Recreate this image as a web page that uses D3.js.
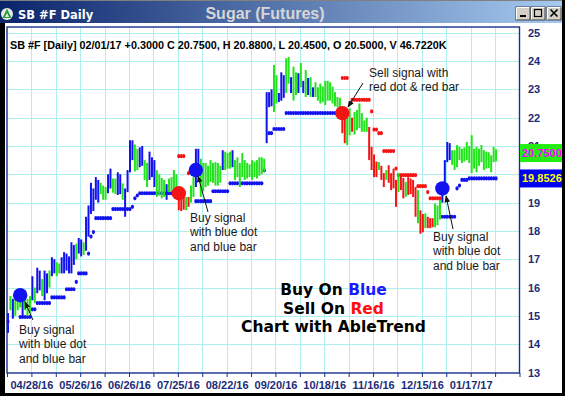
<!DOCTYPE html>
<html>
<head>
<meta charset="utf-8">
<script src="https://cdn.jsdelivr.net/npm/d3@7"></script>
<style>
  html, body { margin: 0; padding: 0; background: #000; }
  svg { display: block; }
</style>
</head>
<body>
<svg id="chart" width="565" height="396"></svg>
<script>
// ---- Sugar futures (SB #F) daily bars, 04/2016 - 02/01/2017 ----
const barLows = [
  14.4,15.2,14.9,15.0,15.2,15.3,15.0,15.2,15.0,15.1,
  15.55,15.45,15.8,15.9,15.7,15.55,15.8,16.0,16.4,16.5,
  16.4,16.5,16.5,16.5,16.6,16.5,16.5,16.8,17.0,17.2,
  17.1,17.15,17.3,17.8,18.6,18.7,19.1,19.0,19.3,19.1,
  19.1,19.33,19.5,19.35,19.3,19.27,19.3,19.1,18.5,19.37,
  20.07,20.5,20.1,20.15,20.25,20.3,19.8,19.55,19.8,19.9,
  19.55,19.2,19.25,19.15,19.2,19.1,19.37,19.4,19.2,19.3,
  18.73,18.7,18.75,18.73,18.85,19.0,19.2,19.55,20.0,19.2,
  19.4,19.55,19.6,19.73,19.7,19.6,19.6,19.7,20.15,20.15,
  20.2,20.2,20.25,19.8,19.9,19.55,19.9,19.8,19.85,19.9,
  19.8,19.9,19.85,19.95,20.0,20.1,21.1,22.37,22.4,22.2,
  22.5,22.55,22.6,22.7,22.87,23.2,22.87,22.6,22.8,22.87,
  23.07,22.87,22.73,22.8,22.73,22.73,22.73,22.6,22.5,22.55,
  22.45,22.6,22.6,22.5,22.4,22.37,22.2,21.45,21.1,21.03,
  21.38,21.5,21.4,21.56,21.63,21.5,21.5,21.5,20.5,20.15,
  19.9,19.9,20.15,19.8,19.55,19.8,19.7,19.44,19.5,18.85,
  19.37,19.44,19.15,19.2,19.27,19.3,19.2,18.5,18.27,17.9,
  17.95,18.1,18.1,18.1,18.13,18.13,18.2,18.4,19.0,19.33,
  20.43,20.5,20.33,20.15,20.25,20.5,20.4,20.45,20.5,20.4,
  20.04,20.2,20.07,20.3,20.43,20.15,20.2,20.22,20.07,20.43,
  20.45
];
const barHighs = [
  15.1,15.7,15.6,15.7,15.8,15.9,15.8,15.9,15.6,15.7,
  16.4,16.0,16.7,16.6,16.3,16.6,16.5,16.6,17.07,17.0,
  16.9,16.85,17.07,17.25,17.2,17.1,17.6,17.5,17.55,17.75,
  17.7,17.6,18.5,18.9,19.7,19.5,19.9,19.8,19.7,19.6,
  19.55,20.0,20.2,19.85,19.85,20.07,20.0,19.68,19.5,20.15,
  21.2,21.2,21.05,20.9,20.95,21.0,20.5,20.4,20.8,20.6,
  20.5,20.15,20.0,19.87,19.8,19.65,19.85,19.9,20.15,20.0,
  19.4,19.4,19.3,19.2,19.2,19.6,19.9,20.9,20.9,20.55,
  20.4,20.4,20.3,20.5,20.4,20.43,20.4,20.3,20.85,20.8,
  20.75,20.8,20.85,20.5,20.6,20.4,20.75,20.5,20.4,20.35,
  20.5,20.45,20.5,20.6,20.6,20.55,22.9,22.9,23.0,23.86,
  23.5,22.87,23.6,23.5,24.1,24.14,23.43,23.8,23.6,23.57,
  23.93,23.3,23.68,23.4,23.43,23.07,23.25,23.07,23.2,23.1,
  23.3,23.3,23.25,23.1,22.9,22.73,22.7,22.16,22.0,22.2,
  22.33,22.0,22.2,22.27,22.5,22.16,21.9,22.0,21.67,20.97,
  20.7,20.45,20.43,20.3,20.04,20.15,20.32,20.04,20.2,19.8,
  20.04,19.97,19.87,19.73,19.9,19.85,19.8,19.55,19.44,18.73,
  18.6,18.62,18.5,18.45,18.45,18.97,18.9,19.1,19.5,20.5,
  21.14,21.1,20.85,20.85,21.03,20.97,20.9,20.95,21.14,21.0,
  21.38,20.9,20.97,20.9,21.03,20.85,20.8,20.78,20.67,20.97,
  20.88
];
// AbleTrend bar state: b = up trend, g = neutral, r = down trend
const barTrend = (
  "bgbgggbggg" + "bgbbgbbgbb" + "ggbbbbbbgb" + "bgbbbbbbgg" + "gbbggbbgbb" +
  "bbggbbggbb" + "bggggbgggg" + "rrrgrggbbg" + "ggggggggbg" + "ggbggggggg" +
  "ggggggbbbg" + "gbbbggbggb" + "gbgbgbgggg" + "gggggggrrg" + "grggggggrr" +
  "rrgrrgrrrr" + "grrgrrrrgr" + "rgrrrgggbb" + "bbgggggggg" + "gggggggggg" + "g"
).split("");

// Trailing stop levels: [first bar, last bar, price]
const blueStopRuns = [
  [5,9,14.96],[10,11,15.23],[12,17,15.45],[18,23,15.65],[24,27,15.94],[28,28,16.2],
  [29,32,16.5],[33,33,17.2],[34,34,17.8],[35,35,17.96],[36,42,18.45],[43,50,18.77],
  [51,51,18.85],[52,52,19.15],[53,53,19.25],[54,69,19.33],
  [77,83,19.05],[84,90,19.4],[91,104,19.68],[105,105,20.14],[107,108,21.45],[109,113,21.6],
  [114,136,22.16],
  [178,183,18.5],[184,184,19.5],[185,185,19.6],[186,188,19.8],[189,200,19.8526]
];
const redStopRuns = [
  [0,0,14.8],[70,72,20.64],[74,74,20.04],
  [137,139,23.4],[141,148,22.63],[149,149,22.22],[150,151,21.58],[152,153,21.45],
  [154,158,20.82],[159,159,20.2],[160,167,19.97],[168,171,19.58],[172,172,19.37],[173,177,19.15]
];

// Entry signals (large dots)
const signalBars   = [5, 70, 77, 137, 178];
const signalPrices = [15.73, 19.33, 20.15, 22.16, 19.5];
const signalTypes  = ["buy", "sell", "buy", "sell", "buy"];

// Axes
const priceTicks = [13,14,15,16,17,18,19,20,21,22,23,24,25];
const dateLabels = ["04/28/16","05/26/16","06/26/16","07/25/16","08/22/16",
                    "09/20/16","10/18/16","11/16/16","12/15/16","01/17/17"];

// Last session quote
const lastOpen = 20.5, lastClose = 20.75, lastChange = 0.3, lastVolume = "46.7220K", lastDate = "02/01/17";

const colors = { b: "#1212ee", g: "#22e41c", r: "#f41414" };

// ---------------------------------------------------------------
const svg = d3.select("#chart");
const W = 565, H = 396;
const plot = { left: 7, right: 519.5, top: 27, bottom: 373 };

const x = d3.scaleLinear().domain([-0.4, 209.6]).range([plot.left, plot.right]);
const y = d3.scaleLinear().domain([13, 25]).range([372.5, 32.7]);

// window frame
svg.append("rect").attr("width", W).attr("height", H).attr("fill", "#000");
const grad = svg.append("defs").append("linearGradient").attr("id", "titleGrad");
grad.append("stop").attr("offset", "0%").attr("stop-color", "#0a246a");
grad.append("stop").attr("offset", "100%").attr("stop-color", "#a6caf0");
svg.append("rect").attr("x", 0).attr("y", 1).attr("width", 562).attr("height", 22).attr("fill", "url(#titleGrad)");
svg.append("rect").attr("x", 0).attr("y", 0).attr("width", 562).attr("height", 1).attr("fill", "#808080");
svg.append("rect").attr("x", 5).attr("y", 23).attr("width", 557).attr("height", 370).attr("fill", "#fff");

// title bar icon
svg.append("circle").attr("cx", 7).attr("cy", 14).attr("r", 6).attr("fill", "#e8ece8");
svg.append("path").attr("d", "M7,8.5 L11.5,18 L2.5,18 Z").attr("fill", "#2a9a3a");
svg.append("path").attr("d", "M7,13 L9,17 L5,17 Z").attr("fill", "#e8ece8");

svg.append("text").attr("x", 18).attr("y", 18.5)
  .attr("font-family", "Verdana, 'DejaVu Sans', sans-serif").attr("font-weight", "bold")
  .attr("font-size", 11.5).attr("fill", "#fff").text("SB #F Daily");
svg.append("text").attr("x", 265).attr("y", 19).attr("text-anchor", "middle")
  .attr("font-family", "'Liberation Sans', Arial, sans-serif").attr("font-weight", "bold")
  .attr("font-size", 16).attr("fill", "#d6d6d8").text("Sugar (Futures)");

// window buttons
const btns = svg.append("g");
[516, 531, 547].forEach((bx, k) => {
  btns.append("rect").attr("x", bx).attr("y", 7).attr("width", 14).attr("height", 13)
    .attr("fill", "#d4d0c8").attr("stroke", "#404040").attr("stroke-width", 1);
  btns.append("path").attr("d", `M${bx+0.5},${19.5} L${bx+0.5},${7.5} L${bx+13.5},${7.5}`)
    .attr("fill", "none").attr("stroke", "#fff");
  if (k === 0) btns.append("rect").attr("x", bx + 4).attr("y", 15).attr("width", 6).attr("height", 2).attr("fill", "#000");
  if (k === 1) btns.append("rect").attr("x", bx + 3.5).attr("y", 9.5).attr("width", 7).attr("height", 7)
    .attr("fill", "none").attr("stroke", "#000").attr("stroke-width", 1.2);
  if (k === 2) btns.append("path").attr("d", `M${bx+3.5},${9.5} L${bx+10.5},${16.5} M${bx+10.5},${9.5} L${bx+3.5},${16.5}`)
    .attr("stroke", "#000").attr("stroke-width", 1.6);
});

// grid
const gridIdx = d3.range(0, 22).map(k => x.domain()[0] + 10 * k);
const grid = svg.append("g").attr("stroke", "#aef0f0").attr("stroke-width", 1);
grid.selectAll("line.v").data(gridIdx.slice(1, -1)).join("line")
  .attr("x1", d => Math.round(x(d)) + 0.5).attr("x2", d => Math.round(x(d)) + 0.5)
  .attr("y1", plot.top).attr("y2", plot.bottom);
grid.selectAll("line.h").data(priceTicks.slice(1)).join("line")
  .attr("x1", plot.left).attr("x2", plot.right)
  .attr("y1", d => Math.round(y(d)) + 0.5).attr("y2", d => Math.round(y(d)) + 0.5);

// header quote line
const fmt4 = d3.format(".4f");
svg.append("text").attr("x", 10).attr("y", 49)
  .attr("font-family", "'Liberation Sans', Arial, sans-serif").attr("font-weight", "bold")
  .attr("font-size", 10.8).attr("fill", "#000")
  .text(`SB #F [Daily] ${lastDate}  +${fmt4(lastChange)} C ${fmt4(lastClose)}, H ${fmt4(barHighs[barHighs.length-1])}, L ${fmt4(barLows[barLows.length-1])}, O ${fmt4(lastOpen)}, V ${lastVolume}`);

// stop dots: beads joined by a thin link inside each run
function drawStops(runs, color) {
  const g = svg.append("g");
  g.selectAll("line").data(runs.filter(r => r[1] > r[0])).join("line")
    .attr("x1", d => x(d[0])).attr("x2", d => x(d[1]))
    .attr("y1", d => y(d[2])).attr("y2", d => y(d[2]))
    .attr("stroke", color).attr("stroke-width", 1.3);
  const pts = runs.flatMap(([a, b, v]) => d3.range(a, b + 1).map(i => ({ i, v })));
  g.selectAll("ellipse").data(pts).join("ellipse")
    .attr("cx", d => x(d.i)).attr("cy", d => y(d.v)).attr("rx", 1.6).attr("ry", 2.1)
    .attr("fill", color);
}
drawStops(blueStopRuns, colors.b);
drawStops(redStopRuns, colors.r);

// price bars
svg.append("g").selectAll("rect").data(barLows.map((lo, i) => ({ i, lo, hi: barHighs[i], t: barTrend[i] })))
  .join("rect")
  .attr("x", d => x(d.i) - 1).attr("width", 2)
  .attr("y", d => y(d.hi)).attr("height", d => Math.max(1.5, y(d.lo) - y(d.hi)))
  .attr("fill", d => colors[d.t]);

// signal dots
svg.append("g").selectAll("circle").data(signalBars.map((b, k) => ({ b, v: signalPrices[k], t: signalTypes[k] })))
  .join("circle")
  .attr("cx", d => x(d.b)).attr("cy", d => y(d.v)).attr("r", 7.2)
  .attr("fill", d => d.t === "buy" ? colors.b : colors.r);

// plot frame
svg.append("rect").attr("x", plot.left).attr("y", plot.top)
  .attr("width", plot.right - plot.left).attr("height", plot.bottom - plot.top)
  .attr("fill", "none").attr("stroke", "#17308e").attr("stroke-width", 1.4);

// bottom date axis
const xAxis = d3.axisBottom(x).tickValues(gridIdx).tickSize(4).tickPadding(4)
  .tickFormat((d, k) => k % 2 === 1 && dateLabels[(k - 1) / 2] ? dateLabels[(k - 1) / 2] : "");
const gx = svg.append("g").attr("transform", `translate(0,${plot.bottom})`).call(xAxis);
gx.select(".domain").remove();
gx.selectAll("line").attr("stroke", "#17308e");
gx.selectAll("text").attr("font-family", "'Liberation Sans', Arial, sans-serif")
  .attr("font-weight", "bold").attr("font-size", 11).attr("fill", "#1c2c78");

// value boxes on the price axis: last close and last trailing stop
const lastStop = blueStopRuns[blueStopRuns.length - 1][2];
const valueBoxes = [[lastClose, "#22ee10", "#ff00ff"], [lastStop, "#0000f0", "#ffff00"]];

// right price axis (labels fully under a value box are left out)
const shownTicks = priceTicks.filter(t => valueBoxes.every(([v]) => Math.abs(y(t) - y(v)) > 5));
const yAxis = d3.axisRight(y).tickValues(shownTicks).tickSize(0).tickPadding(0).tickFormat(d3.format("d"));
const gy = svg.append("g").attr("transform", "translate(528,0)").call(yAxis);
gy.select(".domain").remove();
gy.selectAll("text").attr("font-family", "'Liberation Sans', Arial, sans-serif")
  .attr("font-weight", "bold").attr("font-size", 11).attr("fill", "#1c2c78");

valueBoxes.forEach(([v, bg, fg]) => {
  svg.append("rect").attr("x", 520).attr("y", y(v) - 9).attr("width", 45).attr("height", 18).attr("fill", bg);
  svg.append("text").attr("x", 522).attr("y", y(v) + 4)
    .attr("font-family", "'Liberation Sans', Arial, sans-serif").attr("font-weight", "bold")
    .attr("font-size", 11).attr("fill", fg).text(fmt4(v));
});

// annotations
svg.append("defs").append("marker").attr("id", "arrow").attr("viewBox", "0 0 10 10")
  .attr("refX", 9).attr("refY", 5).attr("markerWidth", 7).attr("markerHeight", 7).attr("orient", "auto")
  .append("path").attr("d", "M0,1 L10,5 L0,9 Z").attr("fill", "#111");

const notes = [
  { lines: ["Buy signal", "with blue dot", "and blue bar"], tx: 19, ty: 334, from: [33, 320], to: [25, 302] },
  { lines: ["Buy signal", "with blue dot", "and blue bar"], tx: 190, ty: 222, from: [208, 212], to: [198, 176] },
  { lines: ["Sell signal with", "red dot & red bar"], tx: 369, ty: 77, from: [363, 83], to: [348, 107] },
  { lines: ["Buy signal", "with blue dot", "and blue bar"], tx: 433, ty: 241, from: [453, 229], to: [446, 196] }
];
notes.forEach(n => {
  svg.append("line").attr("x1", n.from[0]).attr("y1", n.from[1]).attr("x2", n.to[0]).attr("y2", n.to[1])
    .attr("stroke", "#111").attr("stroke-width", 1).attr("marker-end", "url(#arrow)");
  const t = svg.append("text").attr("font-family", "'Liberation Sans', Arial, sans-serif")
    .attr("font-size", 12).attr("fill", "#1a1a1a");
  n.lines.forEach((s, k) => t.append("tspan").attr("x", n.tx).attr("y", n.ty + k * 14.3).text(s));
});

// slogan
const slogan = svg.append("text").attr("text-anchor", "middle")
  .attr("font-family", "'DejaVu Sans', Verdana, sans-serif").attr("font-weight", "bold")
  .attr("font-size", 15.5).attr("fill", "#000");
const l1 = slogan.append("tspan").attr("x", 333.5).attr("y", 295);
l1.append("tspan").text("Buy On ");
l1.append("tspan").attr("fill", "#1a1aff").text("Blue");
const l2 = slogan.append("tspan").attr("x", 333.5).attr("y", 313.5);
l2.append("tspan").text("Sell On ");
l2.append("tspan").attr("fill", "#ff1010").text("Red");
slogan.append("tspan").attr("x", 333.5).attr("y", 332).text("Chart with AbleTrend");

// right border strip
svg.append("rect").attr("x", 562).attr("y", 0).attr("width", 3).attr("height", H).attr("fill", "#000");
</script>
</body>
</html>
